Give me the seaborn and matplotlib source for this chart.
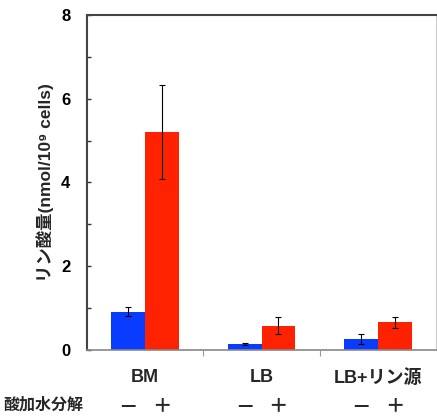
import matplotlib
matplotlib.use("Agg")
import matplotlib.pyplot as plt
import seaborn as sns
import pandas as pd
import numpy as np

categories = ["BM", "LB", "LB+リン源"]
conditions = ["－", "＋"]
values_minus = [0.91, 0.14, 0.25]
values_plus = [5.20, 0.58, 0.66]
err_minus = [0.11, 0.02, 0.12]
err_plus = [1.13, 0.20, 0.13]
yticks = [0, 2, 4, 6, 8]

sns.set_style("white")
plt.rcParams['font.family'] = ['Liberation Sans', 'Noto Sans CJK JP']
plt.rcParams['font.weight'] = 'bold'

df = pd.DataFrame({
    "cat": categories * 2,
    "cond": [conditions[0]] * 3 + [conditions[1]] * 3,
    "val": values_minus + values_plus,
    "err": err_minus + err_plus,
})

fig = plt.figure(figsize=(4.37, 4.16), dpi=100)
ax = fig.add_axes([0.199, 0.159, 0.799, 0.805])
sns.barplot(data=df, x="cat", y="val", hue="cond", order=categories,
            hue_order=conditions, palette=["#0A3CFF", "#FF2200"],
            width=0.58, gap=0, errorbar=None, saturation=1, ax=ax,
            linewidth=0, legend=False)

errs = [err_minus, err_plus]
bar_containers = list(ax.containers)
for ci, cont in enumerate(bar_containers):
    for bi, bar in enumerate(cont):
        xc = bar.get_x() + bar.get_width() / 2
        ax.errorbar(xc, bar.get_height(), yerr=errs[ci][bi], color="black",
                    lw=0.8, capsize=2, capthick=0.8, fmt="none", zorder=5)
        ax.text(xc, -0.168, conditions[ci], transform=ax.get_xaxis_transform(),
                ha="center", va="center", fontsize=14, fontweight="bold",
                family=['Noto Sans CJK JP'])

fig.text(3 / 437, 1 - 405 / 416, "酸加水分解", ha="left", va="center",
         fontsize=11.5, fontweight="bold", family=['Noto Sans CJK JP'])

ax.set_xlim(-0.5, 2.5)
ax.set_ylim(0, 8)
ax.set_yticks(yticks)
ax.set_yticklabels([str(t) for t in yticks], fontsize=12, fontweight="bold")
ax.set_yticks([1, 3, 5, 7], minor=True)
ax.tick_params(axis="y", which="both", direction="in", length=3, width=1, left=True, pad=12, colors="#333333", labelcolor="black")
ax.set_xticks(range(len(categories)))
ax.set_xticklabels(categories, fontsize=13, fontweight="bold")
ax.set_xticks([0.5, 1.5], minor=True)
ax.tick_params(axis="x", which="major", length=0, pad=14)
ax.tick_params(axis="x", which="minor", direction="out", length=4, width=0.8, bottom=True, colors="#999999")
ax.set_xlabel("")
ax.set_ylabel("リン酸量(nmol/10⁹ cells)", fontsize=12.5, fontweight="bold", labelpad=5)

for s in ["top", "left"]:
    ax.spines[s].set_color("#444444")
    ax.spines[s].set_linewidth(1.5)
ax.spines["bottom"].set_color("#888888")
ax.spines["bottom"].set_linewidth(1.2)
ax.spines["right"].set_color("#cccccc")
ax.spines["right"].set_linewidth(0.8)
for s in ax.spines.values():
    s.set_visible(True)

fig.savefig("out.png", dpi=100)
